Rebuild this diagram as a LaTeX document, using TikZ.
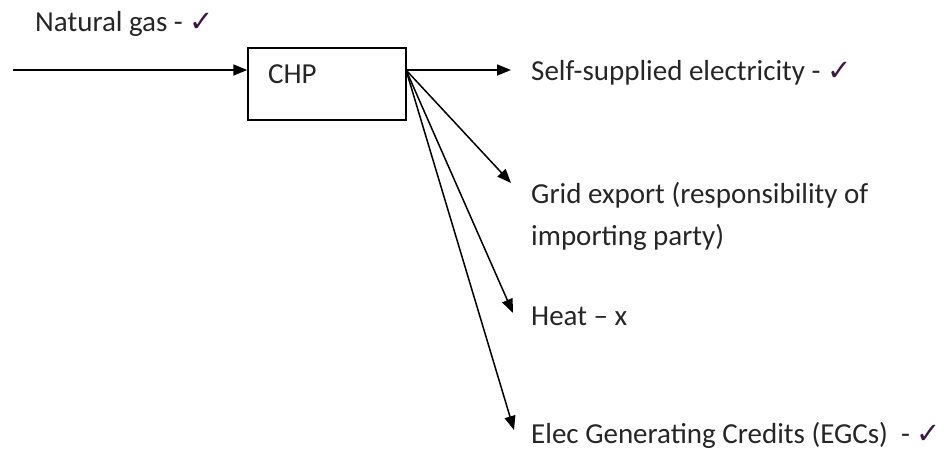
\documentclass[tikz,border=0pt]{standalone}
\usepackage{fontspec}
\setmainfont{Carlito}
\newfontfamily\symfont{DejaVu Sans}
\usetikzlibrary{arrows.meta}
\definecolor{chk}{RGB}{60,20,70}
\newcommand{\chk}{{\symfont\color{chk}\fontsize{29}{29}\selectfont ✓}}
\begin{document}
\begin{tikzpicture}[x=1pt,y=-1pt,
  lbl/.style={anchor=west,inner sep=0pt,font=\fontsize{29}{42}\selectfont,text=black!85},
  arr/.style={line width=1.5pt,-{Triangle[length=14pt,width=11pt]}}]
\useasboundingbox (0,0) rectangle (944,449);
\node[draw,line width=1.5pt,minimum width=158pt,minimum height=72pt,inner sep=0pt] (chp) at (327,84) {};
\node[lbl] (chpt) at (268,74) {CHP};
\coordinate (in) at (13,70);
\coordinate (o) at (406,70);
\node[lbl] (ng) at (35,24) {Natural gas - \chk};
\node[lbl] (ss) at (531,73) {Self-supplied electricity - \chk};
\node[lbl,align=left] (ge) at (531,216) {Grid export (responsibility of\\importing party)};
\node[lbl] (ht) at (531,316) {Heat – x};
\node[lbl] (eg) at (531,435) {Elec Generating Credits (EGCs)\ \ - \chk};
\coordinate (e1) at (511,70);
\coordinate (e2) at (511,183);
\coordinate (e3) at (513,313);
\coordinate (e4) at (514,430);
\draw[arr] (in) -- (in -| chp.west);
\draw[arr] (o) -- (e1);
\draw[arr] (o) -- (e2);
\draw[arr] (o) -- (e3);
\draw[arr] (o) -- (e4);
\end{tikzpicture}
\end{document}
